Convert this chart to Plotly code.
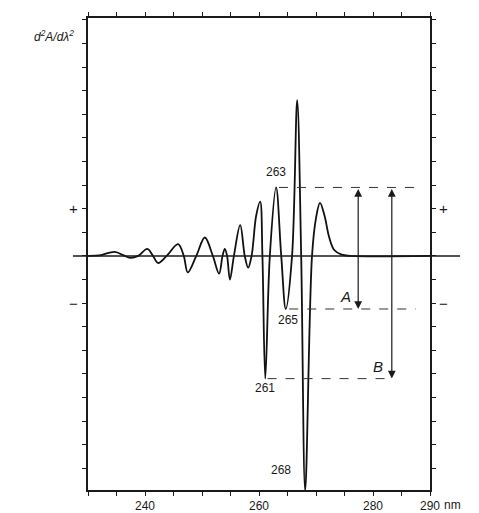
import plotly.graph_objects as go

# ---- data ----
wavelength = [230, 232, 234.7, 236.2, 237.4, 238.8, 240.4, 241.4, 242.3, 243.8,
              245.8, 246.8, 247.5, 249.0, 250.5, 251.9, 253.0, 253.6, 254.0, 254.4,
              254.9, 255.6, 256.7, 257.5, 258.1, 258.7, 259.5, 260.2, 260.6, 261.1,
              261.9, 263.0, 263.9, 264.7, 265.8, 266.7, 267.4, 268.1, 269.3, 270.0,
              270.7, 271.5, 272.3, 273.2, 274.5, 276.0, 290.0]
d2A = [0.0, 0.02, 0.17, 0.03, -0.08, 0.0, 0.3, 0.0, -0.3, 0.0,
       0.5, 0.0, -0.7, 0.0, 0.78, 0.0, -0.75, 0.0, 0.3, 0.0,
       -1.0, 0.0, 1.3, 0.0, -0.5, 0.0, 1.7, 2.3, 0.0, -5.2,
       0.0, 2.9, 0.0, -2.25, 0.0, 6.6, 0.0, -9.95, 0.0, 1.6,
       2.25, 1.7, 0.8, 0.25, 0.05, 0.0, 0.0]

peak_wl = [263.0, 265.1, 261.05, 263.9]
peak_y = [3.56, -2.71, -5.59, -9.07]
peak_labels = ["263", "265", "261", "268"]

x_tickvals = [230, 235, 240, 245, 250, 255, 260, 265, 270, 275, 280, 285, 290]
x_ticktext = ["", "", "240", "", "", "", "260", "", "", "", "280", "", "290"]
y_tickvals = list(range(-9, 11))
sign_vals = [2, -2]
sign_text = ["+", "\u2212"]

# reference levels (dashed) and arrows
level_top, level_mid, level_low = 2.9, -2.25, -5.2
arrowA_wl, arrowB_wl = 277.4, 283.3

fig = go.Figure()
fig.add_trace(go.Scatter(x=wavelength, y=d2A, mode="lines",
                         line=dict(color="#111", width=1.8, shape="spline", smoothing=1.0),
                         hoverinfo="skip"))

ink = "#1a1a1a"
shapes = [
    # zero line extending beyond the frame
    dict(type="line", xref="paper", yref="y", x0=-0.044, x1=1.088, y0=0, y1=0,
         line=dict(color=ink, width=1.5)),
    dict(type="line", xref="x", yref="y", x0=263.5, x1=287.5, y0=level_top, y1=level_top,
         line=dict(color="#333", width=1, dash="dash")),
    dict(type="line", xref="x", yref="y", x0=265.3, x1=287.5, y0=level_mid, y1=level_mid,
         line=dict(color="#333", width=1, dash="dash")),
    dict(type="line", xref="x", yref="y", x0=261.5, x1=282.3, y0=level_low, y1=level_low,
         line=dict(color="#333", width=1, dash="dash")),
]

annotations = []
for wl, yv, t in zip(peak_wl, peak_y, peak_labels):
    annotations.append(dict(x=wl, y=yv, xref="x", yref="y", text=t, showarrow=False,
                            font=dict(size=12, color=ink, family="Liberation Sans")))
for v, t in zip(sign_vals, sign_text):
    for px in (-0.062, 1.058):
        annotations.append(dict(x=px, y=v, xref="paper", yref="y", text=t, showarrow=False,
                                font=dict(size=15, color=ink, family="Liberation Sans")))
# double arrows
for wl, lo in ((arrowA_wl, level_mid), (arrowB_wl, level_low)):
    annotations.append(dict(x=wl, y=lo, ax=wl, ay=level_top, xref="x", yref="y",
                            axref="x", ayref="y", text="", showarrow=True,
                            arrowhead=2, startarrowhead=2, arrowside="end+start",
                            arrowsize=1.3, startarrowsize=1.3, arrowwidth=1.2,
                            arrowcolor=ink, standoff=0, startstandoff=0))
annotations.append(dict(x=275.1, y=-1.74, xref="x", yref="y", text="<i>A</i>", showarrow=False,
                        font=dict(size=15, color=ink, family="Liberation Sans")))
annotations.append(dict(x=280.9, y=-4.7, xref="x", yref="y", text="<i>B</i>", showarrow=False,
                        font=dict(size=15, color=ink, family="Liberation Sans")))
annotations.append(dict(x=-0.035, y=0.982, xref="paper", yref="paper", xanchor="right",
                        text="<i>d<sup>2</sup>A/dλ<sup>2</sup></i>", showarrow=False,
                        font=dict(size=12, color=ink, family="Liberation Sans")))
annotations.append(dict(x=1.096, y=-0.032, xref="paper", yref="paper", text="nm",
                        showarrow=False, yanchor="middle",
                        font=dict(size=12, color=ink, family="Liberation Sans")))

fig.update_layout(
    width=479, height=513,
    margin=dict(l=88, r=49, t=18, b=23, autoexpand=False),
    paper_bgcolor="white", plot_bgcolor="white",
    showlegend=False,
    shapes=shapes, annotations=annotations,
    xaxis=dict(range=[230, 290], tickvals=x_tickvals, ticktext=x_ticktext,
               ticks="outside", ticklen=4, tickwidth=1.2, tickcolor=ink,
               showline=True, linewidth=1.5, linecolor=ink, mirror="ticks",
               showgrid=False, zeroline=False, automargin=False,
               tickfont=dict(size=12, color=ink, family="Liberation Sans")),
    yaxis=dict(range=[-9.92, 10.08], tickvals=y_tickvals, showticklabels=False,
               ticks="outside", ticklen=4, tickwidth=1.2, tickcolor=ink,
               showline=True, linewidth=1.5, linecolor=ink, mirror="ticks",
               showgrid=False, zeroline=False, automargin=False),
)

fig.write_html("out.html")
